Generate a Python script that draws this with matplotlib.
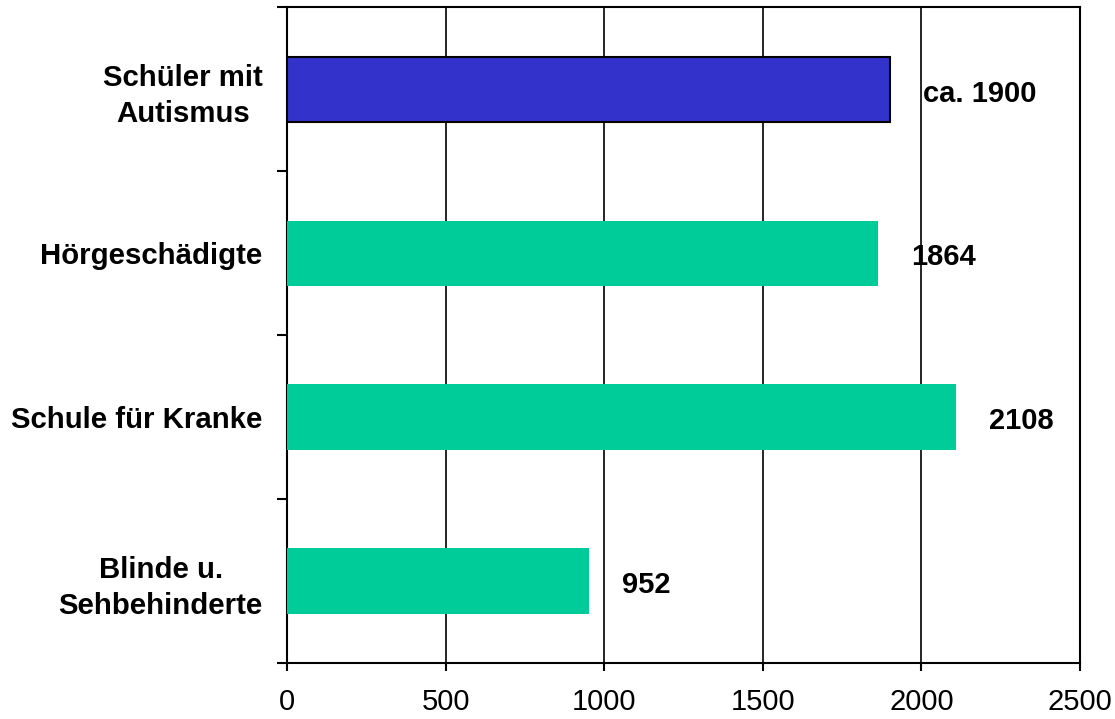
import matplotlib
matplotlib.use("Agg")
import matplotlib.pyplot as plt
import numpy as np

plt.rcParams['font.family'] = ['Liberation Sans', 'DejaVu Sans']

categories = ["Schüler mit\nAutismus", "Hörgeschädigte", "Schule für Kranke", "Blinde u.\nSehbehinderte"]
values = [1900, 1864, 2108, 952]
value_labels = ["ca. 1900", "1864", "2108", "952"]
colors = ["#3333CC", "#00CC99", "#00CC99", "#00CC99"]
edgecolors = ["black", "none", "none", "none"]
xticks = [0, 500, 1000, 1500, 2000, 2500]

fig = plt.figure(figsize=(11.15, 7.19), dpi=100)
ax = fig.add_axes([0.2574, 0.0779, 0.9686 - 0.2574, 0.9896 - 0.0779])

y = np.arange(len(categories))
bars = ax.barh(y, values, height=0.4, color=colors, edgecolor=edgecolors, linewidth=1.5, zorder=3)

ax.set_xlim(0, 2500)
ax.set_ylim(len(categories) - 0.5, -0.5)
ax.set_xticks(xticks)
ax.set_xticklabels([str(t) for t in xticks], fontsize=21)

ax.set_yticks(y)
ax.set_yticklabels(categories, fontsize=21.2, fontweight='bold')
for lab in ax.get_yticklabels():
    lab.set_multialignment('center')
    lab.set_linespacing(1.35)
ax.set_yticks(np.arange(-0.5, len(categories), 1.0), minor=True)
ax.tick_params(axis='y', which='major', length=0, pad=17.5)
ax.tick_params(axis='y', which='minor', length=7, width=1.5, direction='out')
ax.tick_params(axis='x', which='major', length=6, width=1.5, direction='out', pad=12)

ax.grid(axis='x', color='black', linewidth=1.2, zorder=0)
ax.set_axisbelow(True)
for s in ax.spines.values():
    s.set_linewidth(1.5)
    s.set_color('black')

for bar, lab in zip(bars, value_labels):
    ax.annotate(lab, xy=(bar.get_width(), bar.get_y() + bar.get_height() / 2),
                xytext=(24, -3), textcoords='offset points', ha='left', va='center',
                fontsize=21, fontweight='bold', zorder=4)

fig.savefig("out.png", dpi=100)
